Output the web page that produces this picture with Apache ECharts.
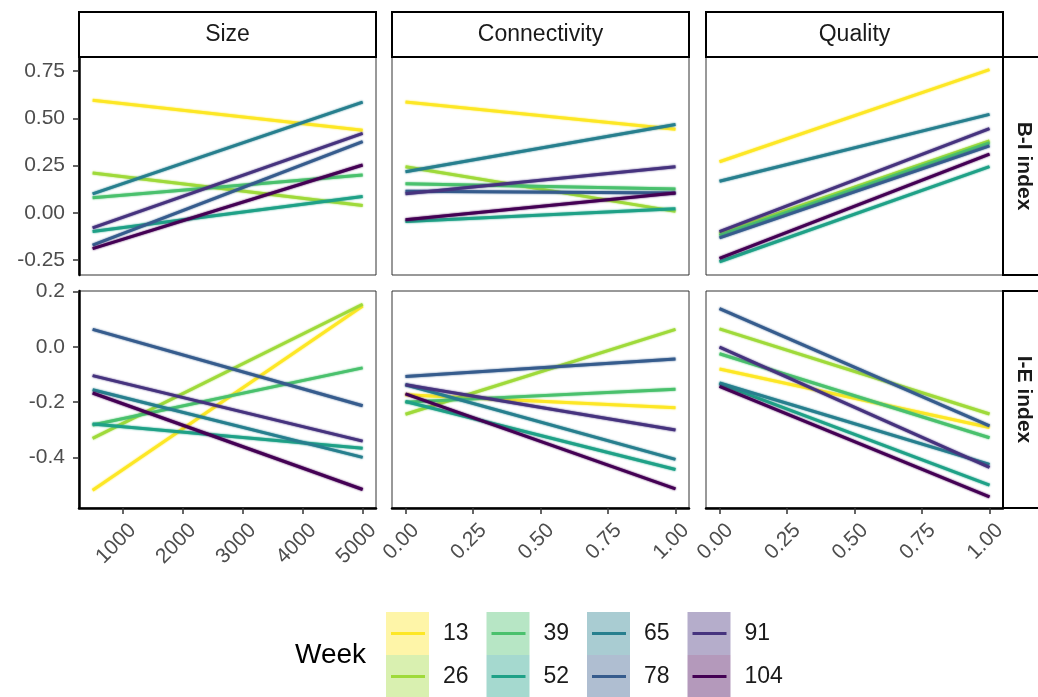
<!DOCTYPE html>
<html>
<head>
<meta charset="utf-8">
<script src="https://cdn.jsdelivr.net/npm/echarts@6.0.0/dist/echarts.min.js"></script>
<style>
  html, body { margin: 0; padding: 0; background: #ffffff; }
  #chart { width: 1038px; height: 697px; }
</style>
</head>
<body>
<div id="chart"></div>
<script>
// Sampling weeks and their viridis colours
const weeks = ['13', '26', '39', '52', '65', '78', '91', '104'];
const weekColors = ['#FDE725', '#9FDA3A', '#4AC16D', '#1FA187', '#277F8E', '#365C8D', '#46337E', '#440154'];

// Predictor ranges covered by the fitted lines
const sizeRange = [505, 5000];
const shareRange = [0, 1];

// Facet labels
const predictors = ['Size', 'Connectivity', 'Quality'];
const indices = ['B-I index', 'I-E index'];

// Tick labels
const sizeTicks = [1000, 2000, 3000, 4000, 5000];
const shareTicks = [0, 0.25, 0.5, 0.75, 1];
const biTicks = [-0.25, 0, 0.25, 0.5, 0.75];
const ieTicks = [-0.4, -0.2, 0, 0.2];

// B-I index: fitted value at the low and high end of each predictor (weeks 13 .. 104)
const sizeBI_from = [0.596, 0.21, 0.079, -0.10, 0.10, -0.172, -0.08, -0.19];
const sizeBI_to   = [0.437, 0.038, 0.20, 0.086, 0.586, 0.377, 0.42, 0.253];
const connBI_from = [0.586, 0.244, 0.153, -0.046, 0.217, 0.114, 0.10, -0.037];
const connBI_to   = [0.442, 0.007, 0.126, 0.021, 0.467, 0.104, 0.244, 0.104];
const qualBI_from = [0.27, -0.11, -0.12, -0.26, 0.167, -0.133, -0.10, -0.242];
const qualBI_to   = [0.758, 0.38, 0.37, 0.244, 0.521, 0.354, 0.446, 0.31];

// I-E index: fitted value at the low and high end of each predictor (weeks 13 .. 104)
const sizeIE_from = [-0.519, -0.331, -0.283, -0.279, -0.155, 0.063, -0.104, -0.167];
const sizeIE_to   = [0.148, 0.154, -0.076, -0.367, -0.40, -0.213, -0.341, -0.516];
const connIE_from = [-0.173, -0.244, -0.20, -0.198, -0.137, -0.107, -0.137, -0.17];
const connIE_to   = [-0.22, 0.063, -0.153, -0.444, -0.407, -0.044, -0.301, -0.514];
const qualIE_from = [-0.08, 0.065, -0.025, -0.133, -0.131, 0.138, -0.001, -0.143];
const qualIE_to   = [-0.292, -0.243, -0.329, -0.50, -0.425, -0.286, -0.436, -0.543];

// ---- layout ----
const FONT = '"Liberation Sans", Arial, sans-serif';
const colLeft = [79, 392, 706];
const colWidth = 297;
const rowTop = [57, 291];
const rowHeight = [218, 217];
const xExtent = [[278, 5222], [-0.05, 1.05], [-0.05, 1.05]];
const yExtent = [[-0.33, 0.825], [-0.583, 0.202]];

const panels = [
  { row: 0, col: 0, range: sizeRange,  from: sizeBI_from, to: sizeBI_to },
  { row: 0, col: 1, range: shareRange, from: connBI_from, to: connBI_to },
  { row: 0, col: 2, range: shareRange, from: qualBI_from, to: qualBI_to },
  { row: 1, col: 0, range: sizeRange,  from: sizeIE_from, to: sizeIE_to },
  { row: 1, col: 1, range: shareRange, from: connIE_from, to: connIE_to },
  { row: 1, col: 2, range: shareRange, from: qualIE_from, to: qualIE_to }
];

const grids = [], xAxes = [], yAxes = [], series = [];

panels.forEach((p, i) => {
  const bottomRow = p.row === 1;
  const leftCol = p.col === 0;
  grids.push({
    left: colLeft[p.col], top: rowTop[p.row],
    width: colWidth, height: rowHeight[p.row],
    show: true, borderColor: '#333333', borderWidth: 1,
    backgroundColor: '#ffffff', containLabel: false, outerBoundsMode: 'none'
  });
  const xt = p.col === 0 ? sizeTicks : shareTicks;
  xAxes.push({
    type: 'value', gridIndex: i,
    min: xExtent[p.col][0], max: xExtent[p.col][1],
    splitLine: { show: false },
    axisLine: { show: bottomRow, onZero: false, lineStyle: { color: '#000000', width: 2.5 } },
    axisTick: { show: bottomRow, customValues: xt, length: 6, lineStyle: { color: '#333333', width: 1.5 } },
    axisLabel: {
      show: bottomRow, customValues: xt, rotate: 45, margin: 9,
      verticalAlign: 'top', padding: [4, 0, 0, 0],
      color: '#4D4D4D', fontSize: 21, fontFamily: FONT,
      formatter: v => p.col === 0 ? String(Math.round(v)) : Number(v).toFixed(2)
    }
  });
  const yt = p.row === 0 ? biTicks : ieTicks;
  yAxes.push({
    type: 'value', gridIndex: i,
    min: yExtent[p.row][0], max: yExtent[p.row][1],
    splitLine: { show: false },
    axisLine: { show: leftCol, onZero: false, lineStyle: { color: '#000000', width: 2.5 } },
    axisTick: { show: leftCol, customValues: yt, length: 6, lineStyle: { color: '#333333', width: 1.5 } },
    axisLabel: {
      show: leftCol, customValues: yt, margin: 14,
      color: '#4D4D4D', fontSize: 21, fontFamily: FONT,
      formatter: v => Number(v).toFixed(p.row === 0 ? 2 : 1)
    }
  });
  weeks.forEach((w, k) => {
    series.push({
      name: w, type: 'line', xAxisIndex: i, yAxisIndex: i,
      data: [[p.range[0], p.from[k]], [p.range[1], p.to[k]]],
      showSymbol: false, silent: true, z: 2 + k,
      lineStyle: {
        color: weekColors[k], width: 3, cap: 'butt',
        shadowColor: weekColors[k], shadowBlur: 2
      },
      itemStyle: { color: weekColors[k] }
    });
  });
});

// ---- facet strips ----
const graphics = [];
predictors.forEach((name, c) => {
  graphics.push({
    type: 'rect', z: 10,
    shape: { x: colLeft[c], y: 12, width: colWidth, height: rowTop[0] - 12 },
    style: { fill: '#ffffff', stroke: '#000000', lineWidth: 2 }
  });
  graphics.push({
    type: 'text', z: 11,
    x: colLeft[c] + colWidth / 2, y: (12 + rowTop[0]) / 2,
    style: { text: name, fill: '#1A1A1A', font: '23px ' + FONT, align: 'center', verticalAlign: 'middle' }
  });
});
indices.forEach((name, r) => {
  const x0 = colLeft[2] + colWidth;
  graphics.push({
    type: 'rect', z: 10,
    shape: { x: x0, y: rowTop[r], width: 50, height: rowHeight[r] },
    style: { fill: '#ffffff', stroke: '#000000', lineWidth: 2 }
  });
  graphics.push({
    type: 'text', z: 11,
    x: x0 + 21, y: rowTop[r] + rowHeight[r] / 2, rotation: -Math.PI / 2,
    style: { text: name, fill: '#1A1A1A', font: 'bold 21px ' + FONT, align: 'center', verticalAlign: 'middle' }
  });
});

// ---- legend: Week keys in a 4 x 2 grid ----
graphics.push({
  type: 'text', x: 295, y: 655,
  style: { text: 'Week', fill: '#000000', font: '28px ' + FONT, align: 'left', verticalAlign: 'middle' }
});
weeks.forEach((w, k) => {
  const col = Math.floor(k / 2), row = k % 2;
  const bx = 386 + col * 100.5, by = 612 + row * 43;
  graphics.push({
    type: 'rect', shape: { x: bx, y: by, width: 43, height: 43 },
    style: { fill: weekColors[k], opacity: 0.4 }
  });
  graphics.push({
    type: 'line', shape: { x1: bx + 5, y1: by + 21.5, x2: bx + 39, y2: by + 21.5 },
    style: { stroke: weekColors[k], lineWidth: 3 }
  });
  graphics.push({
    type: 'text', x: bx + 57, y: by + 22,
    style: { text: w, fill: '#1A1A1A', font: '23px ' + FONT, align: 'left', verticalAlign: 'middle' }
  });
});

const chart = echarts.init(document.getElementById('chart'), null, { renderer: 'canvas' });
chart.setOption({
  backgroundColor: '#ffffff',
  animation: false,
  grid: grids,
  xAxis: xAxes,
  yAxis: yAxes,
  series: series,
  graphic: graphics
});
</script>
</body>
</html>
